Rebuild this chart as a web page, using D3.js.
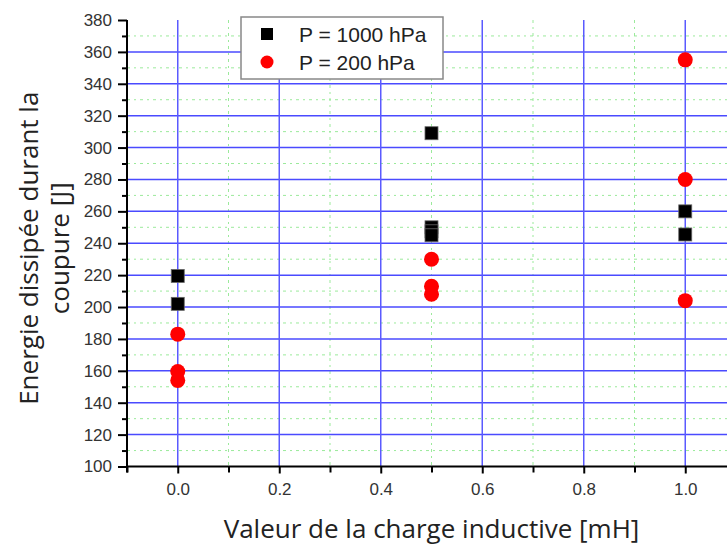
<!DOCTYPE html>
<html>
<head>
<meta charset="utf-8">
<script src="https://cdn.jsdelivr.net/npm/d3@7"></script>
<style>
  html, body { margin: 0; padding: 0; background: #fff; }
  svg { display: block; }
</style>
</head>
<body>
<svg id="chart" width="727" height="546"></svg>
<script>
// ---- data ----
const series1000_x = [0.0, 0.0, 0.5, 0.5, 0.5, 0.5, 1.0, 1.0];
const series1000_y = [219.5, 202, 309, 250, 247.5, 245, 260, 245.5];
const series200_x = [0.0, 0.0, 0.0, 0.5, 0.5, 0.5, 1.0, 1.0, 1.0];
const series200_y = [183, 159.5, 154, 230, 213, 208, 355, 280, 204];
const legendLabels = ["P = 1000 hPa", "P = 200 hPa"];
const xTicks = [0.0, 0.2, 0.4, 0.6, 0.8, 1.0];
const xMinorTicks = [-0.1, 0.1, 0.3, 0.5, 0.7, 0.9];
const yTicks = [100, 120, 140, 160, 180, 200, 220, 240, 260, 280, 300, 320, 340, 360, 380];
const yMinorTicks = [110, 130, 150, 170, 190, 210, 230, 250, 270, 290, 310, 330, 350, 370];
const xTitle = "Valeur de la charge inductive [mH]";
const yTitleLines = ["Energie dissipée durant la", "coupure [J]"];

// ---- layout ----
const svg = d3.select("#chart");
const L = 127, R = 736, T = 20, B = 466.5;
const x = d3.scaleLinear().domain([-0.1, 1.1]).range([L, R]);
const y = d3.scaleLinear().domain([100, 380]).range([B, T]);
const tickFont = "'Liberation Sans', Arial, sans-serif";
const titleFont = "'Open Sans', 'Noto Sans', sans-serif";

// minor grid (green dotted)
const g = svg.append("g");
g.selectAll("line.hmin").data(yMinorTicks).join("line")
  .attr("x1", L).attr("x2", R).attr("y1", d => y(d)).attr("y2", d => y(d))
  .attr("stroke", "#9bea9b").attr("stroke-width", 1).attr("stroke-dasharray", "3,4,2,4");
g.selectAll("line.vmin").data(xMinorTicks.filter(d => d > -0.1)).join("line")
  .attr("x1", d => x(d)).attr("x2", d => x(d)).attr("y1", T).attr("y2", B)
  .attr("stroke", "#9bea9b").attr("stroke-width", 1).attr("stroke-dasharray", "3,4,2,4");

// major grid (blue)
g.append("g").selectAll("line").data(yTicks.filter(d => d > 100 && d < 380)).join("line")
  .attr("x1", L).attr("x2", R).attr("y1", d => y(d)).attr("y2", d => y(d))
  .attr("stroke", "#4a4aff").attr("stroke-width", 1.5);
g.append("g").selectAll("line").data(xTicks).join("line")
  .attr("x1", d => x(d)).attr("x2", d => x(d)).attr("y1", T).attr("y2", B)
  .attr("stroke", "#5a5aff").attr("stroke-width", 1.5);

// axes
const yAxis = d3.axisLeft(y).tickValues(yTicks).tickFormat(d3.format("d")).tickSize(9).tickPadding(6);
const yAxisMinor = d3.axisLeft(y).tickValues(yMinorTicks).tickFormat("").tickSize(5);
const xAxis = d3.axisBottom(x).tickValues(xTicks).tickFormat(d3.format(".1f")).tickSize(7).tickPadding(9);
const xAxisMinor = d3.axisBottom(x).tickValues(xMinorTicks).tickFormat("").tickSize(6);

function styleAxis(sel) {
  sel.select(".domain").attr("stroke", "#000").attr("stroke-width", 2);
  sel.selectAll(".tick line").attr("stroke", "#000").attr("stroke-width", 2);
  sel.selectAll(".tick text").attr("fill", "#333").style("font-family", tickFont).style("font-size", "17px");
}
const gyM = svg.append("g").attr("transform", `translate(${L},0)`).call(yAxisMinor); styleAxis(gyM); gyM.select(".domain").remove();
const gxM = svg.append("g").attr("transform", `translate(0,${B})`).call(xAxisMinor); styleAxis(gxM); gxM.select(".domain").remove();
const gy = svg.append("g").attr("transform", `translate(${L},0)`).call(yAxis); styleAxis(gy);
gy.select(".domain").attr("d", `M0,${T}V${B + 6}`);
const gx = svg.append("g").attr("transform", `translate(0,${B})`).call(xAxis); styleAxis(gx);
gx.select(".domain").attr("d", `M${L - 1},0H${R}`);

// points
const pts200 = series200_x.map((d, i) => ({ x: d, y: series200_y[i] }));
const pts1000 = series1000_x.map((d, i) => ({ x: d, y: series1000_y[i] }));
const sq = 13;
svg.append("g").selectAll("rect").data(pts1000).join("rect")
  .attr("x", d => x(d.x) - sq / 2).attr("y", d => y(d.y) - sq / 2)
  .attr("width", sq).attr("height", sq)
  .attr("fill", "#000").attr("stroke", "#666").attr("stroke-width", 0.8);
svg.append("g").selectAll("circle").data(pts200).join("circle")
  .attr("cx", d => x(d.x)).attr("cy", d => y(d.y)).attr("r", 7.5)
  .attr("fill", "#ff0000");

// legend
const lg = svg.append("g");
lg.append("rect").attr("x", 241).attr("y", 17).attr("width", 202).attr("height", 62)
  .attr("fill", "#fff").attr("stroke", "#888").attr("stroke-width", 1.5);
lg.append("rect").attr("x", 267 - 6).attr("y", 34 - 6).attr("width", 12).attr("height", 12).attr("fill", "#000");
lg.append("circle").attr("cx", 267).attr("cy", 62).attr("r", 6.5).attr("fill", "#ff0000");
lg.selectAll("text").data(legendLabels).join("text")
  .attr("x", 299).attr("y", (d, i) => 41.5 + i * 28)
  .attr("fill", "#222").style("font-family", tickFont).style("font-size", "21px")
  .text(d => d);

// titles
svg.append("text").attr("x", (L + R) / 2).attr("y", 538).attr("text-anchor", "middle")
  .attr("fill", "#222").style("font-family", titleFont).style("font-size", "26px")
  .text(xTitle);
const yt = svg.append("text").attr("transform", `translate(38,${(T + B) / 2 + 5}) rotate(-90)`)
  .attr("text-anchor", "middle").attr("fill", "#222")
  .style("font-family", titleFont).style("font-size", "26px");
yt.selectAll("tspan").data(yTitleLines).join("tspan")
  .attr("x", 0).attr("y", (d, i) => i * 31).text(d => d);
</script>
</body>
</html>
